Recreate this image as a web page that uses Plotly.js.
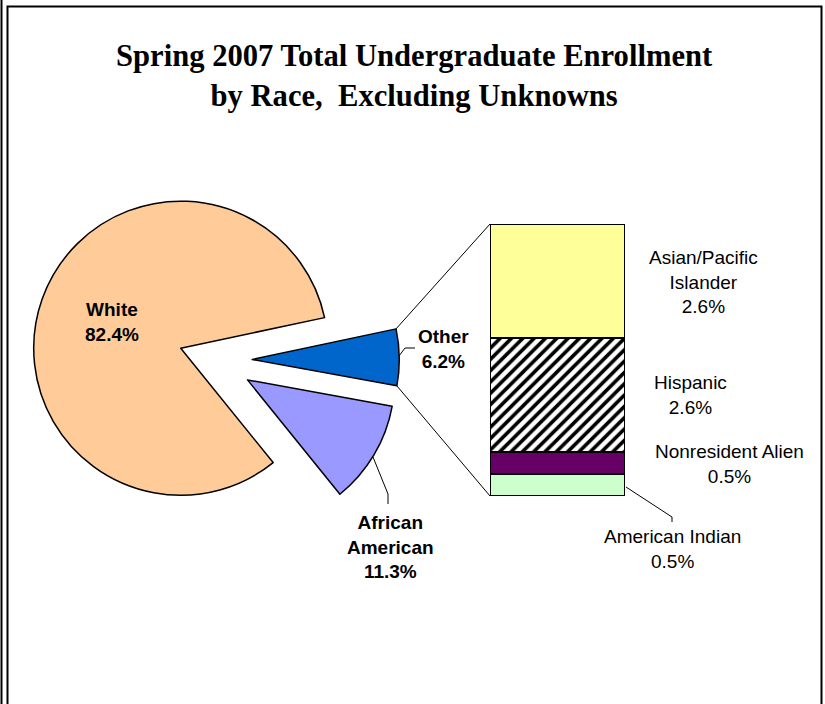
<!DOCTYPE html>
<html>
<head>
<meta charset="utf-8">
<script src="https://cdn.plot.ly/plotly-3.0.1.min.js"></script>
<style>html,body{margin:0;padding:0;background:#fff;}#chart{width:825px;height:704px;}</style>
</head>
<body>
<div id="chart"></div>
<script>
// ---- data ----
var pieLabels = ["White", "African American", "Other"];
var pieDisplay = ["White", "African<br>American", "Other"];
var pieValues = [82.4, 11.3, 6.2];
var pieColors = ["#FFCC99", "#9999FF", "#0066CC"];
var piePull = [0.24, 0.265, 0.26];

var barLabels = ["American Indian", "Nonresident Alien", "Hispanic", "Asian/Pacific Islander"];
var barDisplay = ["American Indian", "Nonresident Alien", "Hispanic", "Asian/Pacific<br>Islander"];
var barValues = [0.5, 0.5, 2.6, 2.6];
var barColors = ["#CCFFCC", "#660066", "#FFFFFF", "#FFFF99"];
var barPatterns = ["", "", "/", ""];

// ---- layout helpers ----
var W = 825, H = 704;
function px(x) { return x / W; }
function py(y) { return 1 - y / H; }

var pieDomX = [px(28), px(400)];
var pieDomY = [py(546), py(174)];
var barDomX = [px(490), px(625)];
var barDomY = [py(496), py(224)];
var startDeg = 12;          // math angle where the first slice starts (ccw from 3 o'clock)

var pieTotal = pieValues.reduce(function (a, b) { return a + b; }, 0);
var spanFirst = pieValues[0] / pieTotal * 360;
// Plotly (counterclockwise): first slice ends at `rotation` (cw from 12 o'clock)
var rotation = 90 - startDeg - spanFirst;

var traces = [];
traces.push({
  type: "pie",
  labels: pieLabels,
  values: pieValues,
  sort: false,
  direction: "counterclockwise",
  rotation: rotation,
  pull: piePull,
  textinfo: "none",
  hoverinfo: "label+percent",
  marker: { colors: pieColors, line: { color: "#000", width: 1.5 } },
  domain: { x: pieDomX, y: pieDomY },
  showlegend: false
});

var barTotal = barValues.reduce(function (a, b) { return a + b; }, 0);
for (var i = 0; i < barLabels.length; i++) {
  var m = { color: barColors[i], line: { color: "#000", width: 1.5 } };
  if (barPatterns[i]) {
    m.pattern = { shape: barPatterns[i], fgcolor: "#000", bgcolor: "#fff", size: 8, solidity: 0.45 };
  }
  traces.push({
    type: "bar",
    x: [0],
    y: [barValues[i]],
    name: barLabels[i],
    width: 1,
    marker: m,
    hoverinfo: "name+y",
    showlegend: false
  });
}

// ---- connector lines between Other slice and bar ----
var pw = W * (pieDomX[1] - pieDomX[0]), ph = H * (pieDomY[1] - pieDomY[0]);
var maxPull = Math.max.apply(null, piePull);
var R = Math.min(pw, ph) / (2 + 2 * maxPull);
var cx = W * (pieDomX[0] + pieDomX[1]) / 2;
var cy = H * (1 - (pieDomY[0] + pieDomY[1]) / 2);
var angles = [];
var acc = startDeg;
for (var k = 0; k < pieValues.length; k++) {
  var span = pieValues[k] / pieTotal * 360;
  angles.push([acc, acc + span]);
  acc += span;
}
var oi = pieLabels.indexOf("Other");
var a0 = angles[oi][0] * Math.PI / 180, a1 = angles[oi][1] * Math.PI / 180;
var amid = (a0 + a1) / 2;
var ocx = cx + piePull[oi] * R * Math.cos(amid);
var ocy = cy - piePull[oi] * R * Math.sin(amid);
var ptTop = [ocx + R * Math.cos(a1), ocy - R * Math.sin(a1)];
var ptBot = [ocx + R * Math.cos(a0), ocy - R * Math.sin(a0)];
var barLeftX = W * barDomX[0];
var barTopY = H * (1 - barDomY[1]);
var barBotY = H * (1 - barDomY[0]);

var shapes = [
  { type: "line", xref: "paper", yref: "paper", x0: px(ptTop[0]), y0: py(ptTop[1]), x1: px(barLeftX), y1: py(barTopY), line: { color: "#000", width: 1 } },
  { type: "line", xref: "paper", yref: "paper", x0: px(ptBot[0]), y0: py(ptBot[1]), x1: px(barLeftX), y1: py(barBotY), line: { color: "#000", width: 1 } },
  // label leader lines
  { type: "path", xref: "paper", yref: "paper", path: "M" + px(399) + "," + py(356) + " L" + px(405) + "," + py(348) + " L" + px(415) + "," + py(348), line: { color: "#000", width: 1 } },
  { type: "path", xref: "paper", yref: "paper", path: "M" + px(373) + "," + py(457) + " L" + px(388) + "," + py(494) + " L" + px(388) + "," + py(504), line: { color: "#000", width: 1 } },
  { type: "path", xref: "paper", yref: "paper", path: "M" + px(626) + "," + py(487) + " L" + px(672) + "," + py(517) + " L" + px(672) + "," + py(522), line: { color: "#000", width: 1 } },
  // outer borders
  { type: "line", xref: "paper", yref: "paper", x0: px(1.5), y0: py(0), x1: px(1.5), y1: py(704), line: { color: "#000", width: 2 } },
  { type: "path", xref: "paper", yref: "paper", path: "M" + px(7.5) + "," + py(710) + " L" + px(7.5) + "," + py(6.5) + " L" + px(821.5) + "," + py(6.5) + " L" + px(821.5) + "," + py(710), line: { color: "#000", width: 2 } }
];

// ---- labels ----
function pct(v) { return v.toFixed(1) + "%"; }
var labelFont = { family: "Arial, Liberation Sans, sans-serif", size: 19, color: "#000" };
var boldFont = { family: "Arial, Liberation Sans, sans-serif", size: 19, color: "#000", weight: "bold" };
var piePos = { "White": [112, 322], "African American": [390, 547], "Other": [443, 349] };
var barPos = { "American Indian": [672, 549], "Nonresident Alien": [729, 464], "Hispanic": [690, 395], "Asian/Pacific Islander": [703, 282] };
var annotations = [];
pieLabels.forEach(function (l, j) {
  annotations.push({ xref: "paper", yref: "paper", x: px(piePos[l][0]), y: py(piePos[l][1]), xanchor: "center", yanchor: "middle",
    text: "<b>" + pieDisplay[j] + "<br>" + pct(pieValues[j]) + "</b>", showarrow: false, align: "center", font: boldFont });
});
barLabels.forEach(function (l, j) {
  annotations.push({ xref: "paper", yref: "paper", x: px(barPos[l][0]), y: py(barPos[l][1]), xanchor: "center", yanchor: "middle",
    text: barDisplay[j] + "<br>" + pct(barValues[j]), showarrow: false, align: "center", font: labelFont });
});

var layout = {
  width: W, height: H,
  margin: { l: 0, r: 0, t: 0, b: 0 },
  paper_bgcolor: "#fff", plot_bgcolor: "rgba(0,0,0,0)",
  title: {
    text: "Spring 2007 Total Undergraduate Enrollment<br>by Race,&nbsp; Excluding Unknowns",
    font: { family: "Times New Roman, Liberation Serif, serif", size: 30.6, color: "#000", weight: "bold" },
    x: 0.502, xanchor: "center", xref: "paper",
    y: 1 - 66 / H, yref: "container", yanchor: "top"
  },
  barmode: "stack",
  bargap: 0,
  xaxis: { domain: barDomX, range: [-0.5, 0.5], visible: false, fixedrange: true },
  yaxis: { domain: barDomY, range: [0, barTotal], visible: false, fixedrange: true },
  shapes: shapes,
  annotations: annotations,
  showlegend: false
};

Plotly.newPlot("chart", traces, layout, { displayModeBar: false, staticPlot: true });
</script>
</body>
</html>
